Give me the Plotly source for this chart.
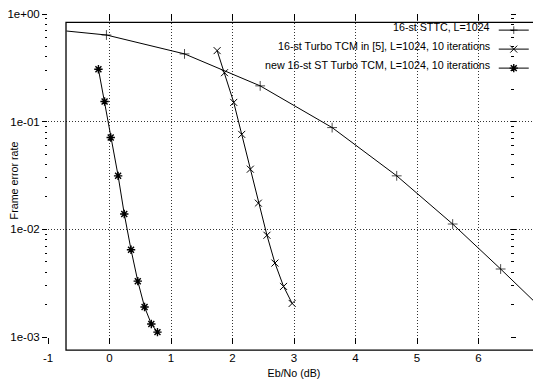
import plotly.graph_objects as go

# ---- data ----
sttc_x = [-0.70, -0.05, 1.22, 2.45, 3.62, 4.67, 5.58, 6.36, 7.00]
sttc_y = [0.695, 0.638, 0.426, 0.215, 0.0881, 0.0314, 0.0112, 0.00428, 0.0019]
sttc_marker = [0, 7, 7, 7, 7, 7, 7, 7, 0]

turbo_x = [1.75, 1.87, 2.02, 2.15, 2.29, 2.42, 2.56, 2.69, 2.83, 2.97]
turbo_y = [0.457, 0.285, 0.151, 0.0762, 0.0362, 0.0175, 0.00881, 0.00486, 0.00295, 0.00205]

new_x = [-0.18, -0.08, 0.02, 0.14, 0.24, 0.35, 0.46, 0.57, 0.68, 0.78]
new_y = [0.307, 0.154, 0.0712, 0.0314, 0.0139, 0.00647, 0.00330, 0.00190, 0.00132, 0.00111]

series_names = [
    "16-st STTC, L=1024",
    "16-st Turbo TCM in [5], L=1024, 10 iterations",
    "new 16-st ST Turbo TCM, L=1024, 10 iterations",
]

x_title = "Eb/No (dB)"
y_title = "Frame error rate"
x_tickvals = [-1, 0, 1, 2, 3, 4, 5, 6, 7]
x_ticktext = ["-1", "0", "1", "2", "3", "4", "5", "6", "7"]
y_tickvals = [1, 0.1, 0.01, 0.001]
y_ticktext = ["1e+00", "1e-01", "1e-02", "1e-03"]
y_minor = [k * 10.0 ** e for e in (-3, -2, -1) for k in range(2, 10)]

FONT = "Liberation Sans, Arial, Helvetica, sans-serif"

fig = go.Figure()
fig.add_trace(go.Scatter(
    x=sttc_x, y=sttc_y, mode="lines+markers", name=" ",
    line=dict(color="black", width=1),
    marker=dict(symbol="cross-thin-open", size=sttc_marker,
                line=dict(color="black", width=1)),
))
fig.add_trace(go.Scatter(
    x=turbo_x, y=turbo_y, mode="lines+markers", name=" ",
    line=dict(color="black", width=1),
    marker=dict(symbol="x-thin-open", size=7,
                line=dict(color="black", width=1)),
))
fig.add_trace(go.Scatter(
    x=new_x, y=new_y, mode="lines+markers", name=" ",
    line=dict(color="black", width=1),
    marker=dict(symbol="asterisk-open", size=7,
                line=dict(color="black", width=1.4)),
))
# helper (empty) traces so the mirrored tick axes are drawn
fig.add_trace(go.Scatter(x=[], y=[], xaxis="x2", yaxis="y", showlegend=False, hoverinfo="skip"))
fig.add_trace(go.Scatter(x=[], y=[], xaxis="x", yaxis="y2", showlegend=False, hoverinfo="skip"))

grid = dict(showgrid=True, gridcolor="#333333", griddash="1px,2px", gridwidth=1)

# page body adds an 8px offset, so the figure is 8px smaller and margins shifted
fig.update_layout(
    width=533, height=374, autosize=False,
    margin=dict(l=40, r=1, t=6, b=44.5, autoexpand=False),
    paper_bgcolor="white", plot_bgcolor="white",
    font=dict(family=FONT, size=11, color="black"),
    xaxis=dict(
        range=[-1, 7], tickvals=x_tickvals, ticktext=x_ticktext,
        ticks="outside", ticklen=6, tickcolor="black", ticklabelstandoff=4,
        showline=False, zeroline=False, automargin=False, **grid,
        title=dict(text=x_title, font=dict(size=10.7), standoff=6),
        tickfont=dict(size=11.5),
    ),
    xaxis2=dict(
        overlaying="x", matches="x", side="top", anchor="y",
        range=[-1, 7], tickvals=x_tickvals, showticklabels=False,
        ticks="inside", ticklen=6, tickcolor="black", automargin=False,
        showgrid=False, zeroline=False, showline=False,
    ),
    yaxis=dict(
        type="log", range=[-3, 0], tickvals=y_tickvals, ticktext=y_ticktext,
        ticks="outside", ticklen=5, tickcolor="black",
        minor=dict(tickvals=y_minor, ticks="outside", ticklen=2,
                   tickcolor="black", showgrid=False),
        showline=False, zeroline=False, automargin=False, **grid,
        tickfont=dict(size=11.5),
    ),
    yaxis2=dict(
        type="log", overlaying="y", matches="y", anchor="free", side="right",
        position=0.94, range=[-3, 0], tickvals=y_tickvals, showticklabels=False,
        ticks="outside", ticklen=5, tickcolor="black", automargin=False,
        minor=dict(tickvals=y_minor, ticks="outside", ticklen=3,
                   tickcolor="black", showgrid=False),
        showgrid=False, zeroline=False, showline=False,
    ),
    legend=dict(
        x=0.906, y=0.995, xanchor="left", yanchor="top",
        bgcolor="rgba(0,0,0,0)", borderwidth=0,
        font=dict(size=10.7), tracegroupgap=0,
    ),
    showlegend=True,
)

# y-axis title placed as in the reference (between the tick labels)
fig.add_annotation(text=y_title, xref="paper", yref="paper",
                   x=-0.069, y=0.485, textangle=-90,
                   xanchor="center", yanchor="middle", showarrow=False,
                   font=dict(size=10.7, family=FONT))

# inner solid frame of the original figure
fig.add_shape(type="rect", xref="paper", yref="paper",
              x0=0.0366, x1=1.2, y0=-0.0408, y1=0.9743,
              line=dict(color="black", width=1.3), fillcolor="rgba(0,0,0,0)",
              layer="above")

row_y = [0.9598, 0.9011, 0.8423]
for name, yy in zip(series_names, row_y):
    fig.add_annotation(text=name, xref="paper", yref="paper",
                       x=0.9018, y=yy, xanchor="right", yanchor="middle",
                       showarrow=False, font=dict(size=10.7, family=FONT))

fig.write_html("out.html")
